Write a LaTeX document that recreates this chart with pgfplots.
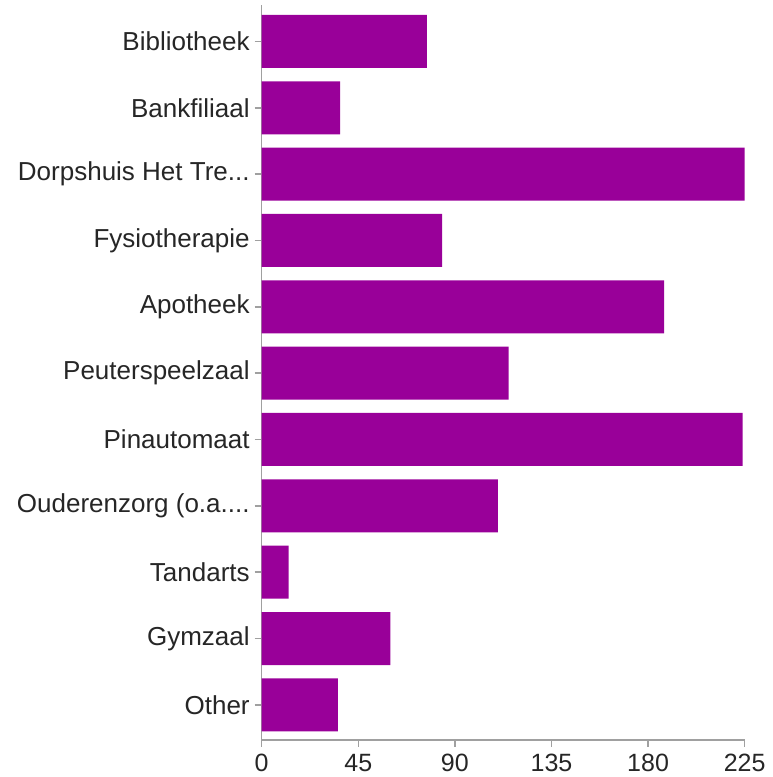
\documentclass[border=0pt]{standalone}
\usepackage{fontspec}
\setmainfont{Liberation Sans}
\usepackage{pgfplots}
\pgfplotsset{compat=1.18}
\definecolor{barc}{HTML}{990099}
\definecolor{axc}{HTML}{A0A0A0}
\begin{document}
\begin{tikzpicture}
\begin{axis}[
 scale only axis, width=241.5pt, height=367.5pt,
 xbar, bar width=26.5pt,
 xmin=0, xmax=225, ymin=-0.53, ymax=10.55,
 axis x line*=bottom, axis y line*=left,
 axis line style={axc, line width=0.7pt},
 xtick={0,45,90,135,180,225}, ytick={0,1,2,3,4,5,6,7,8,9,10},
 yticklabels={Other, Gymzaal, Tandarts, {Ouderenzorg (o.a.{}.{}.{}.}, Pinautomaat, Peuterspeelzaal, Apotheek, Fysiotherapie, {Dorpshuis Het Tre.{}.{}.}, Bankfiliaal, Bibliotheek},
 tick align=outside, major tick length=3.5pt,
 tick style={axc, line width=0.7pt},
 ticklabel style={text=black!85},
 xticklabel style={font=\fontsize{12.5}{15}\selectfont},
 yticklabel style={font=\fontsize{13}{15}\selectfont, xshift=1pt},
 /pgf/number format/assume math mode=true,
 clip=false,
]
\addplot[fill=barc, draw=none] coordinates {
 (35.5,0) (60,1) (12.5,2) (110,3) (224,4) (115,5) (187.5,6) (84,7) (225,8) (36.5,9) (77,10)};
\end{axis}
\pgfresetboundingbox
\path[use as bounding box] ([shift={(-130.85pt,-18.5pt)}]current axis.south west) rectangle ++(386pt,388.5pt);
\end{tikzpicture}
\end{document}
